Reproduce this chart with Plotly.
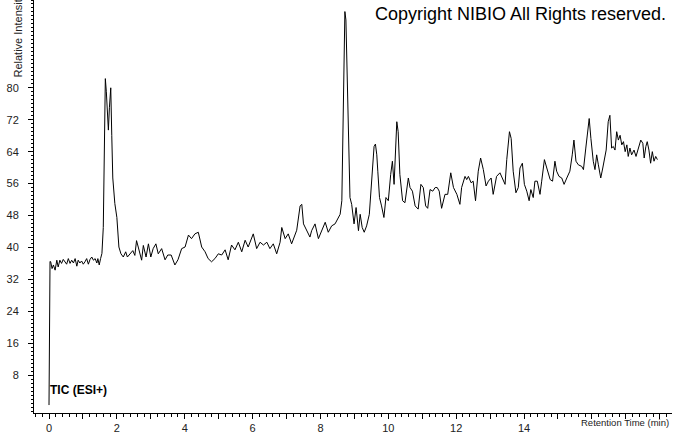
import plotly.graph_objects as go

# Retention time (min) and relative intensity
retention_time = [
    0.0, 0.01, 0.03, 0.05, 0.09, 0.13, 0.18, 0.23, 0.27, 0.32, 0.37, 0.42, 0.47, 0.52, 0.57, 0.62,
    0.67, 0.72, 0.77, 0.82, 0.86, 0.91, 0.96, 1.01, 1.06, 1.11, 1.16, 1.21, 1.26, 1.31, 1.36, 1.41,
    1.44, 1.48, 1.52, 1.56, 1.60, 1.63, 1.66, 1.69, 1.72, 1.75, 1.78, 1.82, 1.85, 1.88, 1.94, 2.00,
    2.06, 2.12, 2.19, 2.26, 2.31, 2.39, 2.47, 2.53, 2.58, 2.63, 2.68, 2.73, 2.78, 2.86, 2.93, 3.00,
    3.07, 3.15, 3.22, 3.32, 3.42, 3.50, 3.60, 3.71, 3.80, 3.91, 4.01, 4.11, 4.20, 4.30, 4.40, 4.50,
    4.60, 4.69, 4.79, 4.89, 4.99, 5.09, 5.19, 5.28, 5.38, 5.48, 5.58, 5.68, 5.78, 5.87, 6.02, 6.12,
    6.22, 6.32, 6.42, 6.51, 6.61, 6.71, 6.81, 6.86, 6.96, 7.05, 7.15, 7.25, 7.30, 7.40, 7.45, 7.50,
    7.59, 7.69, 7.74, 7.84, 7.94, 8.04, 8.14, 8.23, 8.33, 8.43, 8.53, 8.58, 8.63, 8.68, 8.72, 8.75,
    8.77, 8.82, 8.87, 8.92, 8.95, 8.99, 9.05, 9.12, 9.17, 9.23, 9.29, 9.36, 9.44, 9.51, 9.58, 9.62,
    9.66, 9.69, 9.74, 9.80, 9.87, 9.93, 10.00, 10.07, 10.12, 10.17, 10.21, 10.25, 10.29, 10.34, 10.42, 10.49,
    10.59, 10.64, 10.71, 10.79, 10.88, 10.96, 11.03, 11.10, 11.16, 11.23, 11.31, 11.38, 11.44, 11.50, 11.57, 11.67,
    11.75, 11.84, 11.92, 12.02, 12.11, 12.16, 12.26, 12.31, 12.36, 12.44, 12.50, 12.57, 12.65, 12.72, 12.80, 12.88,
    12.95, 13.03, 13.09, 13.19, 13.29, 13.37, 13.44, 13.49, 13.57, 13.62, 13.68, 13.76, 13.83, 13.88, 13.95, 14.01,
    14.08, 14.15, 14.20, 14.27, 14.32, 14.39, 14.47, 14.52, 14.60, 14.67, 14.77, 14.84, 14.91, 14.96, 15.03, 15.11,
    15.18, 15.26, 15.35, 15.42, 15.47, 15.53, 15.60, 15.70, 15.75, 15.82, 15.88, 15.92, 15.97, 16.04, 16.09, 16.14,
    16.19, 16.26, 16.32, 16.37, 16.42, 16.48, 16.53, 16.58, 16.63, 16.68, 16.73, 16.78, 16.83, 16.88, 16.93, 16.98,
    17.03, 17.07, 17.12, 17.17, 17.24, 17.30, 17.37, 17.44, 17.50, 17.54, 17.59, 17.63, 17.68, 17.73, 17.78, 17.83,
    17.88, 17.93,
]
intensity = [
    0.5, 18.0, 36.5, 36.4, 34.7, 35.6, 34.3, 36.8, 35.1, 36.8, 36.0, 37.0, 36.4, 35.8, 37.2, 36.0,
    36.8, 36.1, 37.2, 35.3, 36.8, 36.1, 36.6, 35.8, 36.4, 37.2, 35.8, 37.0, 37.6, 36.8, 37.2, 36.1,
    37.2, 35.6, 37.2, 38.5, 45.0, 65.0, 82.3, 79.0, 74.0, 69.4, 75.0, 80.0, 68.0, 57.4, 51.0, 47.5,
    40.1, 38.4, 37.6, 38.9, 37.6, 38.4, 39.2, 38.0, 41.7, 40.1, 38.4, 36.8, 40.5, 37.6, 40.9, 37.6,
    39.7, 40.9, 38.4, 39.7, 36.9, 38.1, 38.1, 35.6, 36.9, 39.7, 40.1, 43.1, 42.2, 43.4, 43.8, 40.1,
    38.9, 37.2, 36.4, 37.2, 38.4, 38.1, 39.4, 36.9, 40.6, 39.4, 41.3, 38.9, 41.8, 40.1, 43.4, 39.7,
    41.3, 40.6, 41.3, 39.7, 40.9, 38.4, 41.3, 45.0, 42.2, 43.4, 40.9, 43.4, 44.3, 50.4, 50.8, 45.9,
    44.2, 42.6, 44.2, 45.9, 42.2, 44.3, 46.3, 43.8, 45.4, 45.9, 47.5, 48.3, 51.7, 75.0, 99.1, 97.0,
    89.6, 65.7, 52.5, 50.8, 49.2, 45.9, 50.0, 44.2, 48.3, 45.0, 43.8, 45.4, 48.3, 56.6, 65.3, 65.9,
    63.2, 59.1, 52.5, 50.4, 47.5, 52.5, 51.7, 58.3, 61.6, 55.8, 62.4, 71.5, 69.0, 58.3, 51.7, 51.2,
    57.4, 55.0, 54.1, 50.4, 49.6, 55.8, 55.0, 50.4, 49.8, 54.5, 54.1, 55.0, 55.0, 54.1, 49.8, 53.3,
    53.3, 58.7, 55.0, 53.3, 50.8, 55.0, 57.8, 57.0, 57.8, 56.2, 56.6, 51.7, 59.1, 62.4, 59.5, 55.4,
    56.6, 57.4, 53.3, 57.8, 58.7, 57.0, 55.8, 62.0, 69.0, 67.3, 59.1, 53.7, 55.0, 59.9, 61.1, 55.8,
    54.1, 51.7, 54.5, 52.5, 56.6, 56.6, 53.3, 56.6, 62.0, 59.9, 57.0, 56.6, 61.6, 59.1, 57.8, 57.4,
    55.8, 57.4, 59.1, 63.2, 66.9, 61.6, 60.7, 60.3, 59.5, 64.9, 69.8, 72.3, 67.3, 61.6, 59.5, 63.2,
    60.7, 57.4, 59.9, 62.4, 64.4, 71.5, 73.1, 64.9, 65.3, 64.4, 69.0, 66.9, 68.1, 65.7, 66.5, 64.0,
    65.7, 62.8, 64.9, 63.2, 64.4, 62.8, 64.9, 66.9, 66.1, 62.4, 65.3, 66.5, 64.4, 61.1, 64.0, 61.6,
    62.8, 62.0,
]

x_tick_values = [0, 1, 2, 3, 4, 5, 6, 7, 8, 9, 10, 11, 12, 13, 14, 15, 16, 17, 18]
x_tick_labels = ["0", "", "2", "", "4", "", "6", "", "8", "", "10", "", "12", "", "14", "", "", "", ""]
y_tick_values = [8, 16, 24, 32, 40, 48, 56, 64, 72, 80]
y_tick_labels = ["8", "16", "24", "32", "40", "48", "56", "64", "72", "80"]

FONT = "Liberation Sans, Arial, sans-serif"

fig = go.Figure()
fig.add_trace(go.Scatter(
    x=retention_time, y=intensity, mode="lines",
    line=dict(color="black", width=1), showlegend=False, hoverinfo="skip",
))

fig.update_layout(
    width=674, height=434,
    margin=dict(l=34, r=2, t=0, b=16),
    paper_bgcolor="white", plot_bgcolor="white",
    font=dict(family=FONT, size=10, color="#222"),
    xaxis=dict(
        range=[-0.442, 18.36], showgrid=False, zeroline=False,
        showline=True, linecolor="black", linewidth=1,
        tickmode="array", tickvals=x_tick_values, ticktext=x_tick_labels,
        ticks="outside", ticklen=5, tickcolor="black", tickwidth=1,
        tickfont=dict(family=FONT, size=11, color="#222"),
        minor=dict(dtick=0.2, tick0=0, ticks="outside", ticklen=3, tickcolor="black", tickwidth=1, showgrid=False),
    ),
    yaxis=dict(
        range=[-1.49, 102.0], showgrid=False, zeroline=False,
        showline=True, linecolor="black", linewidth=1,
        tickmode="array", tickvals=y_tick_values, ticktext=y_tick_labels,
        ticks="outside", ticklen=5, tickcolor="black", tickwidth=1,
        ticklabelstandoff=7,
        tickfont=dict(family=FONT, size=11, color="#222"),
        minor=dict(dtick=1, tick0=0, ticks="outside", ticklen=2, tickcolor="black", tickwidth=1, showgrid=False),
    ),
    annotations=[
        dict(text="Copyright NIBIO All Rights reserved.", xref="paper", yref="paper",
             x=0.9937, y=0.9665, xanchor="right", yanchor="middle", showarrow=False,
             font=dict(family=FONT, size=18, color="black")),
        dict(text="<b>TIC (ESI+)</b>", xref="paper", yref="paper",
             x=0.0219, y=0.055, xanchor="left", yanchor="middle", showarrow=False,
             font=dict(family=FONT, size=12, color="black")),
        dict(text="Retention Time (min)", xref="paper", yref="paper",
             x=0.999, y=-0.0239, xanchor="right", yanchor="middle", showarrow=False,
             font=dict(family=FONT, size=9.5, color="#222")),
        dict(text="Relative Intensity", xref="paper", yref="paper", textangle=-90,
             x=-0.0251, y=0.914, xanchor="center", yanchor="middle", showarrow=False,
             font=dict(family=FONT, size=11, color="#222")),
    ],
)

fig.write_html("out.html", config={"displayModeBar": False},
               post_script="document.body.style.margin='0';")
